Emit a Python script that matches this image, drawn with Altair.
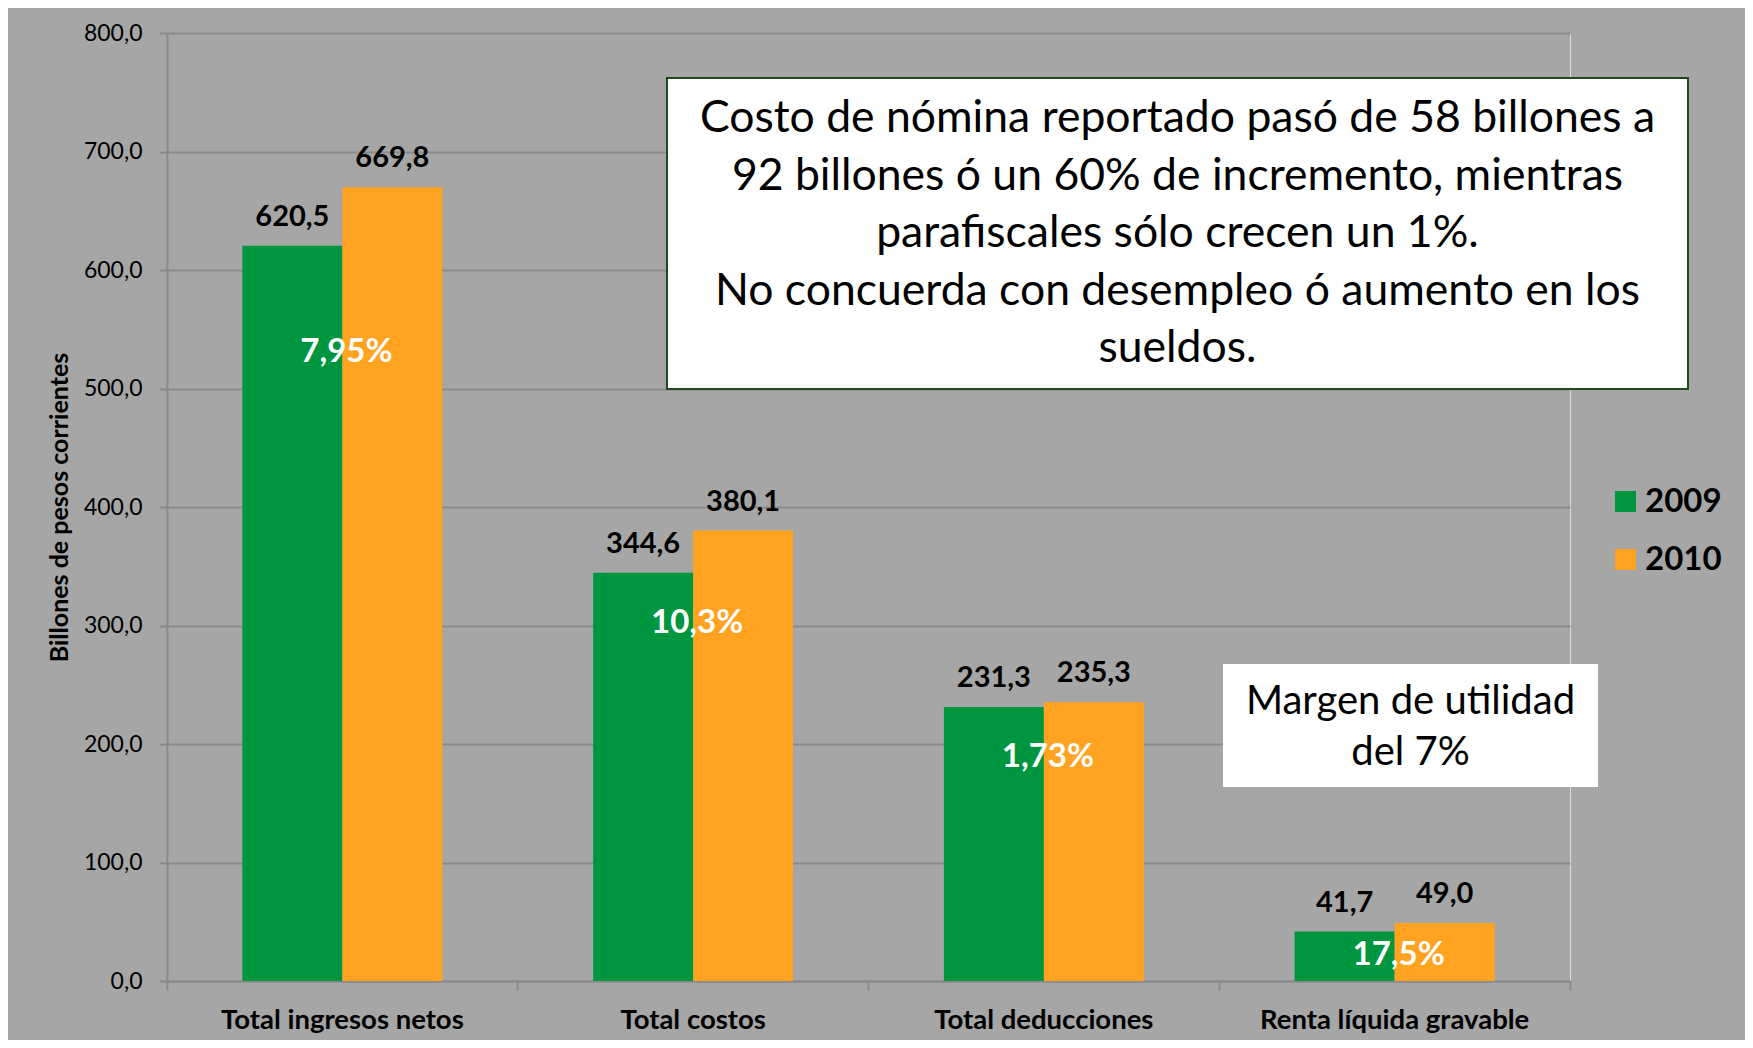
import altair as alt
import pandas as pd

# ---- data ----
categories = ["Total ingresos netos", "Total costos", "Total deducciones", "Renta líquida gravable"]
years = ["2009", "2010"]
values_2009 = [620.5, 344.6, 231.3, 41.7]
values_2010 = [669.8, 380.1, 235.3, 49.0]
pct_labels = ["7,95%", "10,3%", "1,73%", "17,5%"]
pct_label_y = [531, 302, 189, 22]
y_ticks = [0, 100, 200, 300, 400, 500, 600, 700, 800]
note_main = [
    "Costo de nómina reportado pasó de 58 billones a",
    "92 billones ó un 60% de incremento, mientras",
    "parafiscales sólo crecen un 1%.",
    "No concuerda con desempleo ó aumento en los",
    "sueldos.",
]
note_margin = ["Margen de utilidad", "del 7%"]

GREEN = "#00963F"
ORANGE = "#FFA321"
BG = "#A6A6A6"
GRID = "#8A8A8A"
FONT = "Lato"

W, H = 1403, 948

rows = []
for c, v9, v10 in zip(categories, values_2009, values_2010):
    rows.append({"cat": c, "year": "2009", "value": v9})
    rows.append({"cat": c, "year": "2010", "value": v10})
bars_df = pd.DataFrame(rows)
bars_df["label"] = bars_df["value"].map(lambda v: f"{v:.1f}".replace(".", ","))

pct_df = pd.DataFrame({"cat": categories, "pct": pct_labels, "pos": pct_label_y})
one = pd.DataFrame({"k": [0]})

x_enc = alt.X(
    "cat:N",
    sort=categories,
    scale=alt.Scale(paddingInner=0, paddingOuter=0),
    axis=alt.Axis(
        title=None,
        grid=False,
        labelAngle=0,
        bandPosition=1,
        tickExtra=True,
        tickSize=9,
        tickWidth=2,
        tickColor=GRID,
        domainColor=GRID,
        domainWidth=2,
        labelFont=FONT,
        labelFontSize=27.5,
        labelFontWeight="bold",
        labelColor="black",
        labelPadding=16,
        labelLimit=500,
    ),
)
xoff_enc = alt.XOffset("year:N", sort=years, scale=alt.Scale(paddingInner=0, paddingOuter=0.754))
y_enc = alt.Y(
    "value:Q",
    scale=alt.Scale(domain=[0, 800], nice=False),
    axis=alt.Axis(
        values=y_ticks,
        labelExpr="replace(format(datum.value, '.1f'), '.', ',')",
        title="Billones de pesos corrientes",
        titleFont=FONT,
        titleFontSize=25,
        titleFontWeight="bold",
        titleColor="black",
        titleX=-108,
        titleY=H / 2,
        titleAngle=270,
        titleBaseline="middle",
        titleAlign="center",
        grid=True,
        gridColor=GRID,
        gridWidth=2,
        domainColor=GRID,
        domainWidth=2,
        tickColor=GRID,
        tickWidth=2,
        tickSize=8,
        labelFont=FONT,
        labelFontSize=23,
        labelColor="black",
        labelPadding=17,
    ),
)

bars = alt.Chart(bars_df).mark_bar().encode(
    x=x_enc,
    xOffset=xoff_enc,
    y=y_enc,
    color=alt.Color(
        "year:N",
        sort=years,
        scale=alt.Scale(domain=years, range=[GREEN, ORANGE]),
        legend=alt.Legend(
            orient="none",
            legendX=1442,
            legendY=452,
            title=None,
            symbolType="square",
            symbolSize=441,
            symbolStrokeWidth=0,
            labelFont=FONT,
            labelFontSize=33,
            labelFontWeight="bold",
            labelColor="black",
            labelOffset=3,
            rowPadding=24,
        ),
    ),
)

value_text = alt.Chart(bars_df).mark_text(
    font=FONT, fontSize=29, fontWeight="bold", color="black", baseline="alphabetic", dy=-20
).encode(
    x=alt.X("cat:N", sort=categories),
    xOffset=alt.XOffset("year:N", sort=years),
    y="value:Q",
    text="label:N",
)

pct_text = alt.Chart(pct_df).mark_text(
    font=FONT, fontSize=33, fontWeight="bold", color="white", baseline="middle", dx=4
).encode(
    x=alt.X("cat:N", sort=categories),
    y=alt.Y("pos:Q"),
    text="pct:N",
)

box1 = alt.Chart(one).mark_rect(fill="white", stroke="#1E4A1E", strokeWidth=2).encode(
    x=alt.value(500), x2=alt.value(1521), y=alt.value(45), y2=alt.value(356)
)
box1_text = alt.Chart(one).mark_text(
    text=note_main, font=FONT, fontSize=44.5, lineHeight=57.5, align="center",
    baseline="alphabetic", color="black"
).encode(x=alt.value(1010.5), y=alt.value(99))

box2 = alt.Chart(one).mark_rect(fill="white", strokeWidth=0).encode(
    x=alt.value(1056), x2=alt.value(1431), y=alt.value(631), y2=alt.value(754)
)
box2_text = alt.Chart(one).mark_text(
    text=note_margin, font=FONT, fontSize=40, lineHeight=51, align="center",
    baseline="alphabetic", color="black"
).encode(x=alt.value(1243.5), y=alt.value(681))

chart = (
    alt.layer(bars, value_text, pct_text, box1, box1_text, box2, box2_text)
    .properties(
        width=W,
        height=H,
        background=BG,
        padding={"left": 159, "top": 25, "right": 175, "bottom": 59},
        autosize=alt.AutoSizeParams(type="none"),
    )
    .configure_view(stroke=None)
    .configure(font=FONT)
)

chart.save("out.html", embed_options={"renderer": "svg", "actions": False})
